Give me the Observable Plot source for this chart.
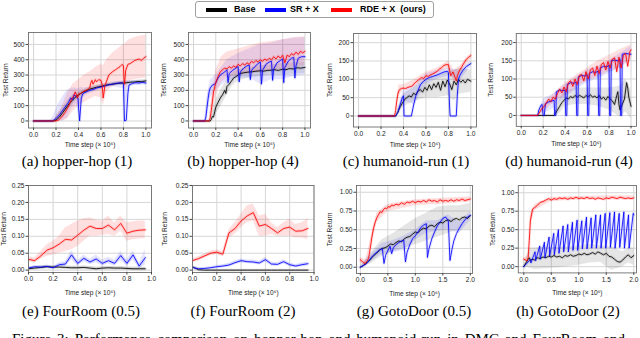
<!DOCTYPE html>
<html><head><meta charset="utf-8">
<script src="https://cdn.jsdelivr.net/npm/d3@7"></script>
<script src="https://cdn.jsdelivr.net/npm/@observablehq/plot@0.6"></script>
<style>
html,body{margin:0;padding:0;background:#fff;}
#fig{position:relative;width:640px;height:338px;overflow:hidden;background:#fff;}
.panel{position:absolute;}
.panel svg{overflow:visible;display:block;}
.cap{position:absolute;font-family:"Liberation Serif","DejaVu Serif",serif;font-size:15px;line-height:15px;color:#000;white-space:nowrap;transform:translateX(-50%);}
#legend{position:absolute;left:195px;top:1px;width:237px;height:15px;border:1px solid #a0a0a0;border-radius:3px;font-family:"Liberation Sans",Arial,sans-serif;font-weight:bold;font-size:9px;}
#legend .pt{position:absolute;top:6px;height:4px;width:21px;}
#legend .lt{position:absolute;top:2px;line-height:11px;white-space:pre;}
#figcap{position:absolute;left:12px;top:332px;width:613px;font-family:"Liberation Serif","DejaVu Serif",serif;font-size:15px;line-height:15px;text-align:justify;text-align-last:justify;white-space:normal;}
</style></head><body><div id="fig">
<div id="legend">
<div class="pt" style="left:10px;background:#000"></div><div class="lt" style="left:38px">Base</div>
<div class="pt" style="left:69px;background:#0000ff"></div><div class="lt" style="left:94px">SR + X</div>
<div class="pt" style="left:135px;background:#ff0000"></div><div class="lt" style="left:164px">RDE + X  (ours)</div>
</div>
<div id="figcap">Figure 3: Performance comparison on hopper-hop and humanoid-run in DMC and FourRoom and</div>
</div>
<script>
// ---------- tick values ----------
const ticksX1 = [0, 0.2, 0.4, 0.6, 0.8, 1.0];
const ticksX2 = [0, 0.5, 1.0, 1.5, 2.0];
const ticksHopper = [0, 100, 200, 300, 400, 500];
const ticksHumanoid = [0, 50, 100, 150, 200];
const ticksFour = [0, 0.05, 0.10, 0.15, 0.20, 0.25];
const ticksGoto = [0, 0.25, 0.5, 0.75, 1.0];

// ---------- (a) hopper-hop (1) ----------
const a_base = [[0,0],[0.18,0],[0.2,5],[0.23,25],[0.26,55],[0.29,85],[0.32,115],[0.35,140],[0.38,160],[0.4,170],[0.42,180],[0.45,192],[0.48,200],[0.5,208],[0.53,214],[0.56,220],[0.6,226],[0.63,231],[0.66,236],[0.7,240],[0.73,243],[0.76,246],[0.8,248],[0.83,250],[0.86,253],[0.9,255],[0.93,258],[0.96,257],[1.0,262]];
const a_sr = [[0,0],[0.17,0],[0.2,15],[0.23,40],[0.26,70],[0.29,100],[0.31,120],[0.33,150],[0.35,140],[0.36,170],[0.38,160],[0.395,150],[0.41,0],[0.425,150],[0.44,180],[0.47,190],[0.5,200],[0.53,205],[0.56,215],[0.6,222],[0.63,228],[0.66,235],[0.7,240],[0.73,245],[0.76,248],[0.79,250],[0.8,240],[0.81,0],[0.825,5],[0.84,180],[0.85,235],[0.88,245],[0.91,250],[0.94,248],[0.97,252],[1.0,248]];
const a_rde = [[0,0],[0.2,0],[0.22,5],[0.25,25],[0.28,55],[0.3,80],[0.32,110],[0.34,145],[0.36,165],[0.37,190],[0.38,175],[0.39,150],[0.4,175],[0.42,180],[0.45,195],[0.48,205],[0.5,215],[0.51,250],[0.52,265],[0.53,240],[0.55,270],[0.56,255],[0.58,270],[0.6,265],[0.61,240],[0.62,150],[0.635,230],[0.65,260],[0.67,300],[0.7,320],[0.73,335],[0.75,345],[0.77,355],[0.79,370],[0.8,360],[0.805,280],[0.81,240],[0.82,330],[0.84,370],[0.86,375],[0.88,385],[0.9,395],[0.92,400],[0.94,405],[0.96,395],[0.98,410],[1.0,420]];
const a_baseBand = [[0.18,0,5],[0.25,30,80],[0.3,70,130],[0.35,110,170],[0.4,150,190],[0.5,195,222],[0.6,215,238],[0.7,230,250],[0.8,238,258],[0.9,245,265],[1.0,250,274]];
const a_srBand = [[0.15,0,0],[0.18,0,40],[0.22,0,110],[0.26,0,160],[0.3,20,200],[0.34,80,215],[0.38,110,215],[0.4,50,210],[0.42,100,220],[0.45,160,215],[0.5,180,220],[0.6,205,238],[0.7,225,255],[0.8,210,262],[0.82,100,262],[0.85,220,262],[0.9,232,265],[1.0,235,265]];
const a_rdeBand = [[0.18,0,5],[0.2,0,30],[0.25,0,90],[0.3,10,180],[0.35,60,240],[0.4,100,270],[0.45,120,300],[0.5,140,320],[0.55,160,350],[0.6,150,370],[0.62,100,360],[0.65,190,400],[0.7,220,440],[0.75,240,470],[0.8,230,500],[0.82,200,510],[0.85,260,530],[0.9,270,545],[0.95,275,555],[1.0,280,560]];

// ---------- (b) hopper-hop (4) ----------
const b_base = [[0,0],[0.15,0],[0.16,10],[0.17,30],[0.18,25],[0.19,60],[0.2,90],[0.22,120],[0.24,150],[0.26,170],[0.28,200],[0.29,180],[0.3,225],[0.32,240],[0.34,260],[0.36,280],[0.38,290],[0.4,300],[0.42,310],[0.45,315],[0.48,318],[0.5,320],[0.53,322],[0.56,325],[0.6,328],[0.63,325],[0.66,330],[0.7,332],[0.73,335],[0.76,330],[0.8,338],[0.83,335],[0.86,342],[0.9,340],[0.93,348],[0.96,345],[1.0,350]];
const b_sr = [[0,0],[0.1,0],[0.11,20],[0.12,80],[0.13,140],[0.14,190],[0.15,215],[0.17,235],[0.19,240],[0.2,250],[0.22,280],[0.24,300],[0.26,310],[0.28,320],[0.3,335],[0.31,250],[0.32,310],[0.35,330],[0.38,345],[0.4,355],[0.41,255],[0.42,320],[0.45,345],[0.48,360],[0.5,365],[0.51,270],[0.52,330],[0.55,355],[0.58,375],[0.6,385],[0.61,240],[0.62,330],[0.65,370],[0.68,385],[0.7,390],[0.71,265],[0.72,340],[0.75,380],[0.78,395],[0.8,405],[0.81,250],[0.82,350],[0.85,390],[0.88,410],[0.9,415],[0.91,280],[0.92,360],[0.94,410],[0.97,420],[1.0,420]];
const b_rde = [[0,0],[0.14,0],[0.15,20],[0.16,70],[0.17,130],[0.18,190],[0.2,250],[0.22,290],[0.24,320],[0.26,335],[0.28,345],[0.3,340],[0.32,355],[0.34,345],[0.36,360],[0.38,350],[0.4,370],[0.42,360],[0.44,375],[0.46,365],[0.48,380],[0.5,370],[0.52,390],[0.54,380],[0.56,395],[0.58,385],[0.6,400],[0.62,390],[0.64,405],[0.66,395],[0.68,410],[0.7,400],[0.72,420],[0.74,405],[0.76,425],[0.78,410],[0.8,430],[0.82,380],[0.84,430],[0.86,420],[0.88,440],[0.9,430],[0.92,450],[0.94,435],[0.96,455],[0.98,445],[1.0,455]];
const b_baseBand = [[0.15,0,5],[0.2,40,140],[0.25,100,210],[0.3,170,270],[0.35,230,310],[0.4,260,335],[0.5,280,350],[0.6,290,360],[0.7,300,365],[0.8,300,375],[0.9,305,380],[1.0,310,385]];
const b_srBand = [[0.1,0,0],[0.12,20,150],[0.15,150,270],[0.2,200,300],[0.3,260,400],[0.4,280,440],[0.5,280,470],[0.6,240,500],[0.7,270,510],[0.8,270,530],[0.9,290,540],[1.0,300,545]];
const b_rdeBand = [[0.14,0,10],[0.17,50,200],[0.2,150,330],[0.25,250,420],[0.3,280,450],[0.4,300,470],[0.5,310,490],[0.6,320,510],[0.7,330,520],[0.8,340,530],[0.9,350,545],[1.0,360,550]];

// ---------- (c) humanoid-run (1) ----------
const c_base = [[0,0],[0.33,0],[0.35,10],[0.37,25],[0.39,35],[0.41,45],[0.43,50],[0.45,55],[0.47,52],[0.49,62],[0.51,58],[0.53,68],[0.55,72],[0.57,65],[0.59,78],[0.61,70],[0.63,85],[0.65,72],[0.67,88],[0.69,78],[0.71,92],[0.73,70],[0.75,95],[0.77,80],[0.79,98],[0.81,88],[0.83,72],[0.85,95],[0.87,85],[0.89,100],[0.91,92],[0.93,98],[0.95,90],[0.97,100],[1.0,95]];
const c_sr = [[0,0],[0.33,0],[0.35,10],[0.37,30],[0.39,50],[0.4,55],[0.405,0],[0.47,0],[0.49,30],[0.51,55],[0.53,70],[0.55,85],[0.58,95],[0.6,100],[0.63,105],[0.66,108],[0.7,112],[0.73,116],[0.76,120],[0.79,122],[0.8,118],[0.81,30],[0.815,0],[0.87,0],[0.88,60],[0.89,100],[0.9,110],[0.93,125],[0.96,135],[1.0,143]];
const c_rde = [[0,0],[0.32,0],[0.33,15],[0.34,40],[0.35,60],[0.36,70],[0.38,75],[0.4,76],[0.42,75],[0.44,78],[0.46,80],[0.48,82],[0.5,90],[0.52,95],[0.54,100],[0.56,105],[0.58,102],[0.6,110],[0.62,108],[0.64,112],[0.66,115],[0.68,118],[0.7,122],[0.72,128],[0.74,132],[0.76,138],[0.78,140],[0.8,140],[0.81,125],[0.82,110],[0.83,115],[0.84,120],[0.86,105],[0.87,95],[0.88,110],[0.9,125],[0.92,135],[0.94,145],[0.96,155],[0.98,160],[1.0,165]];
const c_baseBand = [[0.33,0,0],[0.4,25,60],[0.5,40,80],[0.6,50,100],[0.7,50,110],[0.8,55,120],[0.85,40,125],[0.9,60,130],[1.0,65,125]];
const c_srBand = [[0.33,0,0],[0.4,40,70],[0.5,30,80],[0.6,85,115],[0.7,100,125],[0.8,110,130],[0.9,95,125],[1.0,135,150]];
const c_rdeBand = [[0.32,0,0],[0.36,55,85],[0.4,70,85],[0.5,80,100],[0.6,100,120],[0.7,115,130],[0.8,130,150],[0.85,90,125],[0.9,115,135],[1.0,155,172]];

// ---------- (d) humanoid-run (4) ----------
const d_base = [[0,0],[0.3,0],[0.31,5],[0.33,15],[0.35,25],[0.37,35],[0.39,42],[0.41,48],[0.43,45],[0.45,52],[0.47,48],[0.49,55],[0.51,50],[0.53,55],[0.55,52],[0.57,48],[0.59,55],[0.61,50],[0.63,57],[0.65,50],[0.67,53],[0.69,48],[0.71,55],[0.73,45],[0.75,50],[0.77,42],[0.79,52],[0.81,45],[0.83,40],[0.85,30],[0.87,55],[0.88,65],[0.89,30],[0.9,15],[0.92,30],[0.94,45],[0.96,90],[0.97,75],[0.98,50],[1.0,25]];
const d_sr = [[0,0],[0.15,0],[0.16,15],[0.18,28],[0.19,30],[0.2,0],[0.21,0],[0.22,32],[0.25,37],[0.28,40],[0.3,42],[0.305,0],[0.315,0],[0.32,65],[0.35,70],[0.38,68],[0.4,70],[0.405,0],[0.415,0],[0.42,85],[0.45,90],[0.48,88],[0.5,92],[0.505,0],[0.515,0],[0.52,105],[0.55,110],[0.58,108],[0.6,112],[0.605,0],[0.615,0],[0.62,115],[0.65,120],[0.68,118],[0.7,122],[0.705,0],[0.715,0],[0.72,130],[0.75,135],[0.78,133],[0.8,138],[0.805,0],[0.815,0],[0.82,150],[0.85,152],[0.88,150],[0.9,155],[0.905,0],[0.915,0],[0.92,168],[0.95,170],[1.0,168]];
const d_rde = [[0,0],[0.15,0],[0.17,10],[0.19,20],[0.21,25],[0.23,35],[0.25,45],[0.27,38],[0.29,50],[0.31,45],[0.33,60],[0.35,72],[0.37,62],[0.39,78],[0.41,65],[0.43,90],[0.45,95],[0.47,80],[0.49,100],[0.51,85],[0.53,110],[0.55,112],[0.57,95],[0.59,120],[0.61,100],[0.63,125],[0.65,130],[0.67,110],[0.69,135],[0.71,115],[0.73,140],[0.75,145],[0.77,125],[0.79,148],[0.81,130],[0.83,155],[0.85,158],[0.87,120],[0.89,160],[0.91,130],[0.93,165],[0.95,170],[0.97,135],[0.99,175],[1.0,180]];
const d_baseBand = [[0.3,0,0],[0.35,5,45],[0.4,25,65],[0.5,30,75],[0.6,30,75],[0.7,25,75],[0.8,15,75],[0.9,-5,80],[0.95,10,100],[1.0,-10,70]];
const d_srBand = [[0.15,0,0],[0.2,5,45],[0.3,20,60],[0.4,50,85],[0.5,70,105],[0.6,90,125],[0.7,100,135],[0.8,115,150],[0.9,130,170],[1.0,150,190]];
const d_rdeBand = [[0.15,0,0],[0.2,10,30],[0.3,35,60],[0.4,55,90],[0.5,75,110],[0.6,95,130],[0.7,105,150],[0.8,120,165],[0.9,130,180],[1.0,160,195]];

// ---------- (e) FourRoom (0.5) / (f) FourRoom (2) ----------
const fourX = [0,0.05,0.1,0.15,0.2,0.25,0.3,0.35,0.4,0.45,0.5,0.55,0.6,0.65,0.7,0.75,0.8,0.85,0.9,0.95];
const e_rde   = [0.032,0.028,0.042,0.059,0.066,0.077,0.091,0.089,0.103,0.118,0.13,0.123,0.123,0.133,0.119,0.138,0.109,0.115,0.118,0.119];
const e_rdeLo = [0.026,0.022,0.032,0.04,0.045,0.05,0.055,0.06,0.07,0.085,0.1,0.1,0.102,0.105,0.1,0.115,0.085,0.09,0.092,0.093];
const e_rdeHi = [0.04,0.036,0.055,0.075,0.085,0.1,0.125,0.135,0.145,0.152,0.155,0.147,0.145,0.16,0.14,0.16,0.14,0.143,0.145,0.145];
const e_sr    = [0.006,0.01,0.009,0.011,0.007,0.016,0.018,0.045,0.02,0.035,0.024,0.033,0.02,0.028,0.02,0.043,0.02,0.045,0.012,0.037];
const e_srLo  = [0.004,0.007,0.006,0.008,0.004,0.01,0.01,0.03,0.012,0.025,0.016,0.022,0.012,0.018,0.012,0.028,0.012,0.03,0.005,0.015];
const e_srHi  = [0.009,0.013,0.012,0.014,0.01,0.022,0.026,0.058,0.028,0.045,0.032,0.045,0.03,0.038,0.03,0.056,0.03,0.058,0.02,0.062];
const e_base  = [0.004,0.006,0.008,0.01,0.009,0.009,0.008,0.007,0.007,0.008,0.006,0.004,0.006,0.007,0.006,0.006,0.005,0.004,0.004,0.004];
const e_baseLo= [0.001,0.002,0.003,0.005,0.004,0.004,0.003,0.002,0.002,0.003,0.001,0,0.001,0.002,0.001,0.001,0.001,0,0,0];
const e_baseHi= [0.008,0.01,0.014,0.015,0.014,0.014,0.013,0.012,0.012,0.013,0.011,0.009,0.011,0.012,0.011,0.011,0.01,0.009,0.009,0.009];
const f_rde   = [0.028,0.034,0.042,0.05,0.053,0.047,0.11,0.123,0.145,0.16,0.17,0.13,0.135,0.123,0.11,0.123,0.127,0.115,0.116,0.123];
const f_rdeLo = [0.023,0.028,0.036,0.044,0.046,0.04,0.095,0.105,0.125,0.14,0.145,0.1,0.1,0.105,0.1,0.1,0.1,0.095,0.095,0.09];
const f_rdeHi = [0.033,0.04,0.048,0.056,0.06,0.055,0.12,0.14,0.165,0.19,0.195,0.16,0.165,0.14,0.125,0.14,0.15,0.135,0.14,0.152];
const f_sr    = [0.008,0.004,0.005,0.007,0.01,0.012,0.015,0.022,0.028,0.025,0.024,0.021,0.031,0.018,0.017,0.025,0.016,0.012,0.016,0.019];
const f_srLo  = [0.005,0.002,0.003,0.004,0.006,0.008,0.01,0.016,0.022,0.02,0.019,0.016,0.024,0.013,0.012,0.019,0.011,0.008,0.011,0.014];
const f_srHi  = [0.011,0.007,0.008,0.01,0.014,0.016,0.02,0.028,0.033,0.03,0.03,0.027,0.038,0.023,0.022,0.031,0.021,0.017,0.021,0.024];
const f_base  = [0.01,0.001,0,0,0,0,0,0,0,0,0,0,0,0,0,0,0,0,0,0];

// ---------- (g) GotoDoor (0.5) ----------
const g_rde = [[0,0.1],[0.03,0.08],[0.06,0.06],[0.09,0.05],[0.12,0.08],[0.15,0.12],[0.18,0.25],[0.21,0.4],[0.24,0.52],[0.27,0.6],[0.3,0.66],[0.33,0.7],[0.36,0.74],[0.39,0.73],[0.42,0.77],[0.45,0.79],[0.48,0.78],[0.51,0.81],[0.54,0.8],[0.57,0.83],[0.6,0.82],[0.65,0.84],[0.7,0.83],[0.75,0.86],[0.8,0.84],[0.85,0.87],[0.9,0.86],[0.95,0.88],[1.0,0.86],[1.05,0.88],[1.1,0.87],[1.15,0.89],[1.2,0.87],[1.25,0.9],[1.3,0.88],[1.35,0.89],[1.4,0.87],[1.45,0.9],[1.5,0.88],[1.55,0.89],[1.6,0.88],[1.65,0.9],[1.7,0.88],[1.75,0.9],[1.8,0.89],[1.85,0.91],[1.9,0.89],[1.95,0.9],[2.0,0.91]];
const g_sr = [[0,0],[0.05,0.02],[0.1,0.04],[0.15,0.08],[0.2,0.13],[0.25,0.17],[0.3,0.2],[0.35,0.23],[0.4,0.25],[0.43,0.05],[0.46,0.16],[0.5,0.22],[0.54,0.28],[0.57,0.18],[0.6,0.26],[0.65,0.3],[0.7,0.33],[0.75,0.35],[0.79,0.36],[0.82,0.07],[0.85,0.2],[0.9,0.3],[0.95,0.38],[1.0,0.42],[1.05,0.47],[1.1,0.53],[1.15,0.56],[1.2,0.58],[1.22,0.13],[1.25,0.25],[1.3,0.38],[1.35,0.47],[1.4,0.55],[1.45,0.6],[1.5,0.65],[1.55,0.67],[1.6,0.62],[1.63,0.09],[1.67,0.25],[1.7,0.35],[1.75,0.45],[1.8,0.52],[1.85,0.58],[1.9,0.63],[1.95,0.67],[2.0,0.69]];
const g_base = [[0,0],[0.05,0.02],[0.1,0.05],[0.15,0.08],[0.2,0.12],[0.25,0.16],[0.3,0.19],[0.35,0.23],[0.4,0.25],[0.45,0.26],[0.5,0.28],[0.55,0.31],[0.6,0.3],[0.65,0.33],[0.7,0.35],[0.75,0.34],[0.8,0.38],[0.85,0.4],[0.9,0.41],[0.95,0.44],[1.0,0.47],[1.05,0.46],[1.1,0.5],[1.15,0.52],[1.2,0.51],[1.25,0.55],[1.3,0.56],[1.35,0.54],[1.4,0.58],[1.45,0.6],[1.5,0.59],[1.55,0.62],[1.6,0.63],[1.65,0.61],[1.7,0.64],[1.75,0.65],[1.8,0.63],[1.85,0.66],[1.9,0.67],[1.95,0.65],[2.0,0.69]];
const g_baseBand = [[0,0,0],[0.2,0.05,0.2],[0.4,0.15,0.37],[0.6,0.2,0.45],[0.8,0.25,0.55],[1.0,0.3,0.65],[1.2,0.35,0.72],[1.4,0.4,0.8],[1.6,0.45,0.82],[1.8,0.5,0.82],[2.0,0.5,0.85]];
const g_srBand = [[0,0,0.02],[0.2,0.08,0.18],[0.4,0.18,0.32],[0.6,0.2,0.36],[0.8,0.22,0.42],[1.0,0.36,0.5],[1.2,0.45,0.62],[1.4,0.48,0.62],[1.6,0.5,0.7],[1.8,0.45,0.6],[2.0,0.62,0.74]];
const g_rdeBand = [[0,0.05,0.13],[0.1,0.02,0.1],[0.2,0.3,0.42],[0.3,0.6,0.72],[0.5,0.74,0.84],[1.0,0.82,0.9],[1.5,0.84,0.92],[2.0,0.87,0.94]];

// ---------- (h) GotoDoor (2) ----------
const h_rde = [[0,0.1],[0.03,0.09],[0.06,0.08],[0.08,0.12],[0.1,0.35],[0.12,0.62],[0.14,0.7],[0.16,0.78],[0.2,0.8],[0.25,0.83],[0.3,0.87],[0.35,0.88],[0.4,0.9],[0.45,0.92],[0.5,0.9],[0.55,0.92],[0.6,0.91],[0.65,0.93],[0.7,0.92],[0.75,0.93],[0.8,0.91],[0.85,0.93],[0.9,0.92],[0.95,0.94],[1.0,0.92],[1.05,0.93],[1.1,0.92],[1.15,0.94],[1.2,0.92],[1.25,0.93],[1.3,0.91],[1.35,0.93],[1.4,0.92],[1.45,0.91],[1.5,0.93],[1.55,0.92],[1.6,0.94],[1.65,0.93],[1.7,0.92],[1.75,0.94],[1.8,0.93],[1.85,0.92],[1.9,0.93],[1.95,0.92],[2.0,0.93]];
const h_sr = [[0,0],[0.05,0.04],[0.1,0.08],[0.12,0.1],[0.13,0.05],[0.205,0.2],[0.215,0.08],[0.29,0.28],[0.3,0.1],[0.375,0.33],[0.385,0.12],[0.46,0.4],[0.47,0.14],[0.545,0.45],[0.555,0.16],[0.63,0.5],[0.64,0.18],[0.715,0.55],[0.725,0.2],[0.8,0.57],[0.81,0.2],[0.885,0.6],[0.895,0.22],[0.97,0.63],[0.98,0.22],[1.055,0.62],[1.065,0.24],[1.14,0.67],[1.15,0.24],[1.225,0.66],[1.235,0.25],[1.31,0.7],[1.32,0.25],[1.395,0.7],[1.405,0.25],[1.48,0.72],[1.49,0.25],[1.565,0.73],[1.575,0.26],[1.65,0.74],[1.66,0.25],[1.735,0.72],[1.745,0.26],[1.82,0.74],[1.83,0.25],[1.905,0.7],[1.915,0.25],[1.99,0.72],[2.0,0.7]];
const h_base = [[0,0],[0.04,0.05],[0.08,0.1],[0.1,0.12],[0.12,0.08],[0.15,0.1],[0.2,0.09],[0.25,0.12],[0.3,0.11],[0.35,0.13],[0.4,0.12],[0.45,0.14],[0.5,0.13],[0.55,0.15],[0.6,0.13],[0.65,0.14],[0.7,0.12],[0.75,0.15],[0.8,0.14],[0.85,0.16],[0.9,0.14],[0.95,0.15],[1.0,0.17],[1.05,0.16],[1.1,0.18],[1.15,0.16],[1.2,0.17],[1.25,0.19],[1.3,0.17],[1.35,0.2],[1.4,0.18],[1.45,0.16],[1.5,0.18],[1.55,0.14],[1.6,0.13],[1.65,0.1],[1.7,0.07],[1.75,0.06],[1.8,0.09],[1.85,0.13],[1.9,0.16],[1.95,0.12],[2.0,0.15]];
const h_baseBand = [[0,0,0.02],[0.1,-0.02,0.25],[0.2,-0.04,0.25],[0.4,-0.03,0.27],[0.6,-0.02,0.26],[0.8,0,0.27],[1.0,0.02,0.28],[1.2,0.05,0.3],[1.4,0.06,0.28],[1.5,0,0.28],[1.6,-0.05,0.27],[1.8,0,0.2],[1.9,0.05,0.25],[2.0,0.02,0.25]];
const h_rdeBand = [[0,0.07,0.12],[0.08,0.09,0.15],[0.12,0.55,0.7],[0.2,0.76,0.84],[0.5,0.88,0.94],[1.0,0.9,0.95],[1.5,0.9,0.96],[2.0,0.9,0.96]];

// ---------- helpers ----------
const zipLine = (xs, ys) => xs.map((x, i) => [x, ys[i]]);
const zipBand = (xs, lo, hi) => xs.map((x, i) => [x, lo[i], hi[i]]);
const COL = {base: "#000000", sr: "#0000ff", rde: "#ff0000"};
const BAND = {base: ["#000000", 0.1], sr: ["#0000ff", 0.1], rde: ["#ff0000", 0.12]};

const panels = [
  {frame:[28,32,151,127.5], xd:[-0.045,1.05], yd:[-46,578], xt:ticksX1, yt:ticksHopper, yf:d3.format("d"), xf:d3.format(".1f"), ylo:25.5, xlo:19,
   cap:"(a) hopper-hop (1)", capX:77, capY:154,
   lines:{base:a_base, sr:a_sr, rde:a_rde}, bands:{base:a_baseBand, sr:a_srBand, rde:a_rdeBand}},
  {frame:[188,32,310,127.5], xd:[-0.045,1.05], yd:[-46,578], xt:ticksX1, yt:ticksHopper, yf:d3.format("d"), xf:d3.format(".1f"), ylo:27.5, xlo:19,
   cap:"(b) hopper-hop (4)", capX:243, capY:154,
   lines:{base:b_base, sr:b_sr, rde:b_rde}, bands:{base:b_baseBand, sr:b_srBand, rde:b_rdeBand}},
  {frame:[353,32.5,476,126], xd:[-0.045,1.05], yd:[-30,225], xt:ticksX1, yt:ticksHumanoid, yf:d3.format("d"), xf:d3.format(".1f"), ylo:26.5, xlo:20,
   cap:"(c) humanoid-run (1)", capX:406, capY:154,
   lines:{base:c_base, sr:c_sr, rde:c_rde}, bands:{base:c_baseBand, sr:c_srBand, rde:c_rdeBand}},
  {frame:[516,32.5,637,126], xd:[-0.045,1.05], yd:[-30,225], xt:ticksX1, yt:ticksHumanoid, yf:d3.format("d"), xf:d3.format(".1f"), ylo:28.5, xlo:20,
   cap:"(d) humanoid-run (4)", capX:569, capY:154,
   lines:{base:d_base, sr:d_sr, rde:d_rde}, bands:{base:d_baseBand, sr:d_srBand, rde:d_rdeBand}},
  {frame:[28,184.5,151,271.5], xd:[0,1], yd:[-0.007,0.25], xt:ticksX1, yt:ticksFour, yf:d3.format(".2f"), xf:d3.format(".1f"), ylo:27, xlo:22,
   cap:"(e) FourRoom (0.5)", capX:81, capY:304,
   lines:{base:zipLine(fourX,e_base), sr:zipLine(fourX,e_sr), rde:zipLine(fourX,e_rde)},
   bands:{base:zipBand(fourX,e_baseLo,e_baseHi), sr:zipBand(fourX,e_srLo,e_srHi), rde:zipBand(fourX,e_rdeLo,e_rdeHi)}},
  {frame:[191.5,184.5,313,271.5], xd:[0,1], yd:[-0.007,0.25], xt:ticksX1, yt:ticksFour, yf:d3.format(".2f"), xf:d3.format(".1f"), ylo:30.5, xlo:22,
   cap:"(f) FourRoom (2)", capX:243, capY:304,
   lines:{base:zipLine(fourX,f_base), sr:zipLine(fourX,f_sr), rde:zipLine(fourX,f_rde)},
   bands:{sr:zipBand(fourX,f_srLo,f_srHi), rde:zipBand(fourX,f_rdeLo,f_rdeHi)}},
  {frame:[356,185,472,273], xd:[-0.07,2.04], yd:[-0.084,1.09], xt:ticksX2, yt:ticksGoto, yf:d3.format(".2f"), xf:d3.format(".1f"), ylo:29.5, xlo:22,
   cap:"(g) GotoDoor (0.5)", capX:414, capY:304,
   lines:{base:g_base, sr:g_sr, rde:g_rde}, bands:{base:g_baseBand, sr:g_srBand, rde:g_rdeBand}},
  {frame:[518,185,637,273], xd:[-0.1,2.05], yd:[-0.085,1.098], xt:ticksX2, yt:ticksGoto, yf:d3.format(".2f"), xf:d3.format(".1f"), ylo:28.5, xlo:22,
   cap:"(h) GotoDoor (2)", capX:568, capY:304,
   lines:{base:h_base, sr:h_sr, rde:h_rde}, bands:{base:h_baseBand, rde:h_rdeBand}}
];

const fig = document.getElementById("fig");
const mT = 4, mR = 4, mB = 30, mL = 34;
for (const p of panels) {
  const [L, T, R, B] = p.frame;
  const marks = [
    Plot.gridX(p.xt, {stroke: "#d6d6d6", strokeOpacity: 1, strokeWidth: 1}),
    Plot.gridY(p.yt, {stroke: "#d6d6d6", strokeOpacity: 1, strokeWidth: 1})
  ];
  for (const k of ["base", "sr", "rde"]) {
    if (!p.bands[k]) continue;
    marks.push(Plot.areaY(p.bands[k], {x: d => d[0], y1: d => d[1], y2: d => d[2], fill: BAND[k][0], fillOpacity: BAND[k][1], clip: true}));
  }
  for (const k of ["base", "sr", "rde"]) {
    marks.push(Plot.line(p.lines[k], {x: d => d[0], y: d => d[1], stroke: COL[k], strokeOpacity: 0.1, strokeWidth: 3, clip: true}));
  }
  for (const k of ["base", "sr", "rde"]) {
    marks.push(Plot.line(p.lines[k], {x: d => d[0], y: d => d[1], stroke: COL[k], strokeWidth: 0.85, clip: true}));
  }
  marks.push(Plot.frame({stroke: "#6e6e6e", strokeWidth: 0.9}));
  marks.push(Plot.axisX(p.xt, {tickFormat: p.xf, tickSize: 2.5, tickPadding: 1.5, fontSize: 6.6, stroke: "#444",
    label: "Time step (× 10⁶)", labelAnchor: "center", labelArrow: "none", labelOffset: p.xlo}));
  marks.push(Plot.axisY(p.yt, {tickFormat: p.yf, tickSize: 2.5, tickPadding: 1.5, fontSize: 6.6, stroke: "#444",
    label: "Test Return", labelAnchor: "center", labelArrow: "none", labelOffset: p.ylo}));
  const svg = Plot.plot({
    width: (R - L) + mL + mR, height: (B - T) + mT + mB,
    marginLeft: mL, marginRight: mR, marginTop: mT, marginBottom: mB,
    x: {domain: p.xd}, y: {domain: p.yd},
    style: {fontFamily: "'Liberation Sans', Arial, sans-serif", background: "transparent", overflow: "visible", color: "#222"},
    marks
  });
  const div = document.createElement("div");
  div.className = "panel";
  div.style.left = (L - mL) + "px";
  div.style.top = (T - mT) + "px";
  div.appendChild(svg);
  fig.appendChild(div);
  const cap = document.createElement("div");
  cap.className = "cap";
  cap.style.left = p.capX + "px";
  cap.style.top = p.capY + "px";
  cap.textContent = p.cap;
  fig.appendChild(cap);
}
</script></body></html>
